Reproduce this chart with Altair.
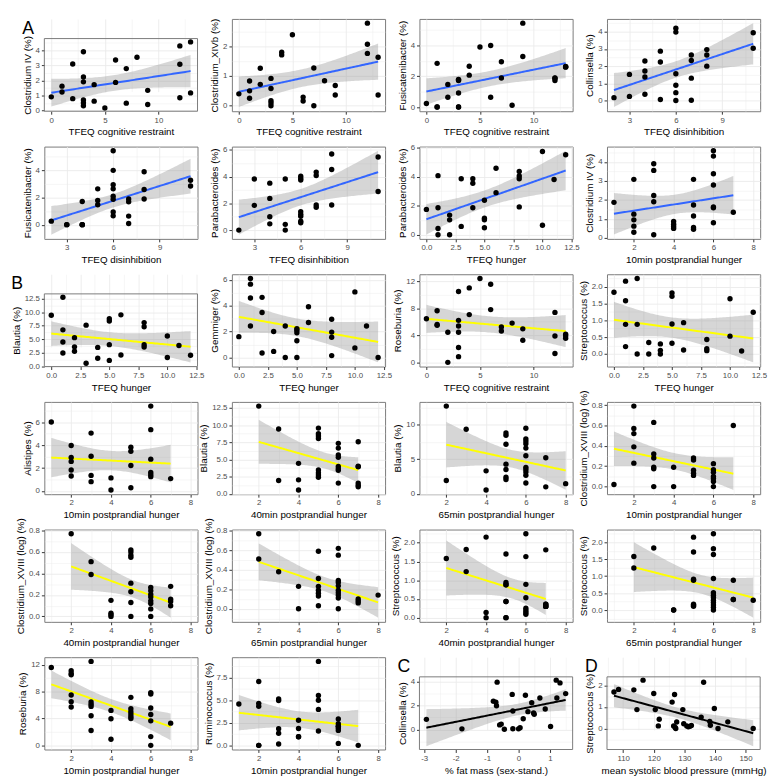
import math
import numpy as np
import pandas as pd
import altair as alt

FONT = "Liberation Sans"

# ---------------- data (overlapping points repeated) ----------------
P1_X = [0,1,1,2,2,3,3,3,3,3,3,4,4,5,6,6,7,7,8,9,9,12,12,12,13,13]
P1_Y = [0.91,1.62,1.23,3.10,0.79,3.91,2.23,1.91,0.70,0.51,0.32,1.72,0.62,0.17,3.36,1.87,2.79,0.49,3.55,1.34,0.40,4.30,3.08,0.85,4.57,1.17]
P2_X = [0,1,1,1,2,2,3,3,3,3,3,4,4,5,6,6,7,7,8,9,9,12,12,12,13,13]
P2_Y = [0.40,0.83,0.50,0.25,1.26,0.72,0.92,0.58,0.17,0.09,0.0,1.80,1.71,2.39,0.29,0.16,1.27,0.0,0.84,0.68,0.36,2.78,2.07,1.76,1.63,0.36]
P3_X = [0,1,1,1,2,2,3,3,3,3,3,3,4,4,5,6,6,7,7,8,9,9,12,12,12,13,13,13]
P3_Y = [0.23,2.84,0.0,0.0,1.47,0.64,1.80,1.76,1.72,0.91,0.0,0.0,2.65,2.07,3.90,4.00,0.64,2.94,1.89,0.12,5.45,3.28,1.89,1.87,1.72,2.64,2.61,2.59]
P4_X = [2,3,3,4,4,4,4,5,5,5,6,6,6,6,6,6,7,7,7,7,8,8,8,11,11]
P4_Y = [0.17,1.52,0.24,2.30,1.72,1.37,0.37,2.87,2.24,0.06,4.20,3.98,1.56,0.89,0.46,0.0,2.65,2.33,1.30,0.02,2.96,2.65,2.00,3.94,3.04]
P5_X = [2,3,3,4,4,4,4,5,5,5,6,6,6,6,6,6,6,6,7,7,7,7,8,8,8,11,11]
P5_Y = [0.26,0.0,0.0,1.71,0.0,0.0,0.0,2.64,1.78,1.47,5.44,4.00,2.94,2.64,2.10,1.87,0.93,0.65,1.89,1.68,0.63,0.09,3.90,2.59,1.89,3.27,2.85]
P6_X = [2,3,3,4,4,4,4,5,5,5,6,6,6,6,6,6,6,6,7,7,7,7,8,8,8,11,11]
P6_Y = [0.0,3.82,1.85,3.51,2.37,1.00,0.47,3.82,0.43,0.0,4.03,3.86,3.74,1.37,1.18,1.04,0.66,0.55,4.34,4.08,1.88,1.71,5.69,4.53,1.88,5.47,2.89]
P7_X = [0,1,1,1,1,2,2,2,3,3,4,4,4,5,5,5,5,6,6,8,8,8,8,10,10,11,12]
P7_Y = [1.74,4.06,1.85,0.43,0.0,1.35,1.02,0.0,3.85,0.57,3.85,3.54,1.85,2.37,1.13,1.02,0.48,4.57,2.89,4.35,4.04,3.85,1.91,5.72,0.65,3.80,5.50]
P8_X = [1,2,2,2,2,2,3,3,3,3,3,4,4,4,4,5,5,5,5,5,6,6,6,6,6,6,6,7]
P8_Y = [1.87,3.08,1.25,0.95,0.62,0.30,3.90,3.55,2.23,1.90,0.17,0.87,0.72,0.60,0.50,3.08,1.73,1.15,0.55,0.45,4.58,4.30,3.37,2.78,1.63,1.58,0.80,1.35]
P9_X = [0,1,1,1,1,2,2,2,3,3,4,4,5,5,5,5,6,6,8,8,8,8,10,10,11,12]
P9_Y = [9.42,12.75,6.73,4.50,2.46,5.30,3.60,2.80,7.60,0.58,3.50,1.50,8.80,8.36,4.00,1.10,9.50,2.10,8.07,7.30,4.00,3.57,5.60,1.64,3.86,2.05]
P10_X = [0,1,1,1,1,2,2,2,3,3,4,4,5,5,5,5,5,6,6,8,8,8,8,10,10,11,12]
P10_Y = [1.61,6.10,5.66,4.59,2.43,4.64,3.47,0.35,2.01,0.47,2.43,0.0,2.23,2.11,1.91,1.29,0.0,3.92,2.70,2.95,1.96,1.56,0.15,5.06,0.74,2.43,0.0]
P11_X = [0,1,1,1,2,2,3,3,3,3,3,3,4,4,5,6,6,7,7,8,9,9,12,12,12,13,13,13]
P11_Y = [6.45,7.62,5.60,5.47,4.44,0.0,10.47,6.21,5.37,4.44,2.20,0.84,11.0,7.06,12.4,11.55,7.80,5.23,4.63,5.80,4.95,3.27,7.38,3.90,1.30,4.16,3.90,3.55]
P12_X = [0,1,1,1,1,2,2,2,3,3,4,4,4,5,5,5,5,6,6,8,8,8,10,10,11,12]
P12_Y = [1.83,2.16,1.58,0.88,0.22,2.24,0.88,0.0,0.34,0.0,0.30,0.11,0.0,1.81,1.71,0.89,0.32,0.93,0.12,0.43,0.16,0.10,1.64,0.53,0.09,1.24]
P13_X = [1,2,2,2,2,2,3,3,3,3,4,4,5,5,5,5,6,6,6,6,6,6,7]
P13_Y = [6.03,3.97,2.92,2.58,1.83,1.31,5.06,3.03,1.36,0.81,1.14,0.08,3.83,3.47,2.22,0.28,7.42,5.36,2.78,1.61,1.42,1.25,1.08]
P14_X = [2,3,3,4,4,4,5,5,5,5,5,5,5,5,6,6,6,6,6,6,6,6,7,7,7,7,7,7]
P14_Y = [12.78,9.44,1.94,4.44,2.04,0.56,9.58,8.75,8.43,8.06,3.47,3.06,2.73,2.41,7.36,6.66,5.65,5.32,3.98,3.66,3.43,1.57,7.59,4.03,3.94,1.57,1.25,1.02]
P15_X = [2,2,3,4,4,5,5,5,5,5,5,5,6,6,6,6,6,6,6,6,6,6,6,7,7,8]
P15_Y = [12.70,1.94,9.35,3.33,0.56,8.80,8.47,7.18,4.30,3.52,2.41,2.08,9.49,7.96,7.64,7.27,6.62,5.51,3.84,3.52,3.15,2.69,1.57,5.23,1.02,1.48]
P16_X = [1,2,2,2,2,2,3,3,3,3,3,3,4,4,5,5,5,5,5,6,6,6,6,6,6,6,7]
P16_Y = [0.02,0.79,0.57,0.52,0.39,0.23,0.63,0.32,0.28,0.19,0.175,0.0,0.19,0.0,0.28,0.26,0.16,0.13,0.11,0.225,0.165,0.14,0.10,0.08,0.05,0.0,0.60]
P17_X = [2,3,3,4,4,4,4,5,5,5,5,5,5,5,5,6,6,6,6,6,6,6,6,7,7,7,7]
P17_Y = [0.77,0.51,0.39,0.15,0.03,0.015,0.0,0.62,0.60,0.57,0.55,0.31,0.23,0.13,0.0,0.27,0.24,0.205,0.18,0.145,0.12,0.07,0.0,0.28,0.16,0.14,0.10]
P18_X = [2,2,3,4,4,5,5,5,5,5,5,5,6,6,6,6,6,6,6,6,6,6,7,7,7,8]
P18_Y = [0.77,0.51,0.38,0.23,0.0,0.59,0.31,0.23,0.19,0.16,0.13,0.03,0.62,0.55,0.29,0.27,0.235,0.19,0.165,0.14,0.11,0.0,0.10,0.08,0.06,0.14]
P19_X = [2,3,3,4,4,4,5,5,5,5,5,5,5,5,6,6,6,6,6,6,6,6,7,7,7,7,7,7]
P19_Y = [1.58,1.82,1.23,2.15,0.14,0.0,1.70,0.94,0.88,0.88,0.43,0.43,0.0,0.0,2.24,1.63,0.89,0.53,0.25,0.19,0.14,0.09,1.81,0.36,0.36,0.30,0.30,0.30]
P20_X = [2,2,3,4,4,5,5,5,5,5,5,5,6,6,6,6,6,6,6,6,6,6,6,6,7,7,7,8]
P20_Y = [1.58,1.24,1.83,0.0,0.0,2.15,1.71,0.91,0.88,0.17,0.14,0.11,2.25,1.81,1.64,0.93,0.51,0.44,0.37,0.29,0.22,0.15,0.08,0.0,0.88,0.31,0.31,0.29]
P21_X = [1,2,2,2,2,2,2,3,3,3,3,3,3,4,4,4,5,5,5,5,5,5,6,6,6,6,6,6,6,7]
P21_Y = [11.6,11.1,10.7,10.5,7.5,6.5,5.7,12.5,6.45,6.1,5.8,4.4,2.2,5.2,3.95,0.9,7.15,5.45,5.0,4.65,4.3,4.0,7.85,7.65,5.55,4.6,3.65,1.3,0.0,3.3]
P22_X = [1,2,2,2,2,2,3,3,3,3,3,4,4,4,4,5,5,5,5,5,6,6,6,6,6,6,6,7]
P22_Y = [4.58,7.08,4.65,4.33,0.0,0.0,5.14,4.96,1.83,1.34,0.14,2.78,1.87,0.95,0.95,9.3,5.53,5.0,3.98,1.58,2.92,2.39,2.11,2.10,1.90,1.65,0.21,0.0]
P23_X = [-2.93,-1.80,-0.80,-0.72,-0.70,-0.68,-0.60,-0.55,-0.45,-0.20,-0.18,-0.18,0.00,0.05,0.15,0.22,0.30,0.42,0.48,0.50,0.68,0.85,1.02,1.20,1.22,1.32,1.50]
P23_Y = [0.85,0.05,2.38,2.30,2.00,3.98,0.38,0.45,0.02,2.95,1.55,0.06,0.05,0.15,0.90,2.88,1.50,2.25,1.38,1.28,2.65,1.72,0.25,4.15,2.65,3.92,3.02]
P24_X = [107,108.5,113.5,114.5,116.5,120,120.5,121.5,121.8,126,126.5,126.8,127,127.2,127.5,129.5,129.8,130.8,131.3,131.8,132.3,135.5,136.3,138.3,138.5,139.8,141,144.2,152.5]
P24_Y = [1.70,1.82,1.80,0.88,2.25,1.63,0.88,0.12,0.43,1.23,0.12,1.58,0.05,0.0,0.30,0.88,0.22,0.12,0.08,0.10,0.14,0.53,2.15,0.33,0.15,0.93,0.0,0.31,0.0]

Y_TITLES = ["Clostridium IV (%)", "Clostridium_XIVb (%)", "Fusicatenibacter (%)", "Collinsella (%)",
            "Fusicatenibacter (%)", "Parabacteroides (%)", "Parabacteroides (%)", "Clostridium IV (%)",
            "Blautia (%)", "Gemmiger (%)", "Roseburia (%)", "Streptococcus (%)",
            "Alistipes (%)", "Blautia (%)", "Blautia (%)", "Clostridium_XVIII (log) (%)",
            "Clostridium_XVIII (log) (%)", "Clostridium_XVIII (log) (%)", "Streptococcus (%)", "Streptococcus (%)",
            "Roseburia (%)", "Ruminococcus (%)", "Collinsella (%)", "Streptococcus (%)"]
X_KIND = ["cr", "cr", "cr", "dis", "dis", "dis", "hun", "pp10",
          "hun", "hun", "cr", "hun", "pp10", "pp40", "pp65", "pp10",
          "pp40", "pp65", "pp40", "pp65", "pp10", "pp10", "fat", "bp"]
Y_TICKS = [[0,1,2,3,4], [0,1,2], [0,2,4], [0,1,2,3,4],
           [0,2,4], [0,2,4,6], [0,2,4,6], [0,1,2,3,4],
           [0,2.5,5,7.5,10,12.5], [0,2,4,6], [0,4,8,12], [0,0.5,1,1.5,2],
           [0,2,4,6], [0,2.5,5,7.5,10,12.5], [0,5,10], [0,0.2,0.4,0.6,0.8],
           [0,0.2,0.4,0.6,0.8], [0,0.2,0.4,0.6,0.8], [0,0.5,1,1.5,2], [0,0.5,1,1.5,2],
           [0,4,8,12], [0,2.5,5,7.5], [0,2,4], [0,1,2]]
LINE_GROUP = ["blue"] * 8 + ["yellow"] * 14 + ["black"] * 2
LETTERS = {0: "A", 8: "B", 22: "C", 23: "D"}

X_INFO = {
    "cr": ("TFEQ cognitive restraint", [0, 5, 10], None),
    "dis": ("TFEQ disinhibition", [3, 6, 9], None),
    "hun": ("TFEQ hunger", [0, 2.5, 5, 7.5, 10, 12.5], None),
    "pp10": ("10min postprandial hunger", [2, 4, 6, 8], (1, 8)),
    "pp40": ("40min postprandial hunger", [2, 4, 6, 8], (1, 8)),
    "pp65": ("65min postprandial hunger", [2, 4, 6, 8], (1, 8)),
    "fat": ("% fat mass (sex-stand.)", [-3, -2, -1, 0, 1], None),
    "bp": ("mean systolic blood pressure (mmHg)", [110, 120, 130, 140, 150], None),
}
COLORS = {"blue": "#3366FF", "yellow": "#FFFF00", "black": "#000000"}

XS = [P1_X, P2_X, P3_X, P4_X, P5_X, P6_X, P7_X, P8_X, P9_X, P10_X, P11_X, P12_X,
      P13_X, P14_X, P15_X, P16_X, P17_X, P18_X, P19_X, P20_X, P21_X, P22_X, P23_X, P24_X]
YS = [P1_Y, P2_Y, P3_Y, P4_Y, P5_Y, P6_Y, P7_Y, P8_Y, P9_Y, P10_Y, P11_Y, P12_Y,
      P13_Y, P14_Y, P15_Y, P16_Y, P17_Y, P18_Y, P19_Y, P20_Y, P21_Y, P22_Y, P23_Y, P24_Y]

W, H = 156, 94
LETTER_GAP = 20
BORDER = "#7a7a7a"


def t975(df):
    z = 1.959964
    g1 = (z**3 + z) / 4
    g2 = (5 * z**5 + 16 * z**3 + 3 * z) / 96
    g3 = (3 * z**7 + 19 * z**5 + 17 * z**3 - 15 * z) / 384
    return z + g1 / df + g2 / df**2 + g3 / df**3


def lm_fit(x, y):
    x = np.asarray(x, float)
    y = np.asarray(y, float)
    n = len(x)
    xb, yb = x.mean(), y.mean()
    sxx = ((x - xb) ** 2).sum()
    b = ((x - xb) * (y - yb)).sum() / sxx
    a = yb - b * xb
    s = math.sqrt(((y - a - b * x) ** 2).sum() / (n - 2))
    t = t975(n - 2)
    xg = np.linspace(x.min(), x.max(), 80)
    fit = a + b * xg
    se = s * np.sqrt(1.0 / n + (xg - xb) ** 2 / sxx)
    return pd.DataFrame({"x": xg, "fit": fit, "lo": fit - t * se, "hi": fit + t * se})


def expand(lo, hi):
    d = (hi - lo) * 0.05
    return [lo - d, hi + d]


def make_axis(ticks, dom, title):
    step = ticks[1] - ticks[0]
    half = step / 2.0
    k0 = math.ceil(dom[0] / half - 1e-9)
    k1 = math.floor(dom[1] / half + 1e-9)
    vals = [round(k * half, 10) for k in range(k0, k1 + 1)]
    fmt = "d" if abs(step - round(step)) < 1e-9 else ".1f"
    test = f"abs(datum.value/{step} - round(datum.value/{step})) < 1e-6"
    return alt.Axis(
        values=vals,
        title=title,
        labelExpr=f"{test} ? replace(format(datum.value, '{fmt}'), '\u2212', '-') : ''",
        tickOpacity={"condition": {"test": test, "value": 1}, "value": 0},
        gridWidth={"condition": {"test": test, "value": 0.9}, "value": 0.45},
        labelOverlap=False,
        labelFlush=False,
    )


panels = []
for i in range(24):
    x, y = XS[i], YS[i]
    fitdf = lm_fit(x, y)
    xtitle, xticks, xlim = X_INFO[X_KIND[i]]
    xdom = expand(*(xlim if xlim else (min(x), max(x))))
    ydom = expand(min(min(y), fitdf["lo"].min()), max(max(y), fitdf["hi"].max()))
    lettered = i in LETTERS
    xs = alt.Scale(domain=xdom, nice=False, zero=False)
    if lettered:
        ys = alt.Scale(domain=ydom, nice=False, zero=False, range=[H, LETTER_GAP])
    else:
        ys = alt.Scale(domain=ydom, nice=False, zero=False)
    xa = make_axis(xticks, xdom, xtitle)
    ya = make_axis(Y_TICKS[i], ydom, Y_TITLES[i])
    pts = pd.DataFrame({"x": x, "y": y})

    band = alt.Chart(fitdf).mark_area(color="#999999", opacity=0.4).encode(
        x=alt.X("x:Q", scale=xs, axis=xa),
        y=alt.Y("lo:Q", scale=ys, axis=ya),
        y2="hi:Q",
    )
    line = alt.Chart(fitdf).mark_line(color=COLORS[LINE_GROUP[i]], strokeWidth=2).encode(
        x=alt.X("x:Q", scale=xs, axis=xa),
        y=alt.Y("fit:Q", scale=ys, axis=ya),
    )
    dots = alt.Chart(pts).mark_circle(size=30, color="black", opacity=1).encode(
        x=alt.X("x:Q", scale=xs, axis=xa),
        y=alt.Y("y:Q", scale=ys, axis=ya),
    )
    layers = [band, line, dots]
    if lettered:
        frame = pd.DataFrame({"x0": [xdom[0]], "x1": [xdom[1]], "y0": [ydom[0]], "y1": [ydom[1]]})
        border = alt.Chart(frame).mark_rect(fillOpacity=0, stroke=BORDER, strokeWidth=1).encode(
            x=alt.X("x0:Q", scale=xs, axis=xa), x2="x1:Q",
            y=alt.Y("y0:Q", scale=ys, axis=ya), y2="y1:Q",
        )
        layers.append(border)
        p = alt.layer(*layers).properties(
            width=W, height=H,
            view=alt.ViewBackground(stroke="transparent"),
            title=alt.TitleParams(text=LETTERS[i], anchor="start", fontSize=18, baseline="top",
                                  fontWeight="normal", font=FONT, color="black", offset=0, dy=19),
        )
    else:
        p = alt.layer(*layers).properties(width=W, height=H)
    panels.append(p)

chart = alt.concat(*panels, columns=4, spacing={"row": 36, "column": 35}, bounds="flush").configure(
    background="white", padding={"left": 2, "top": 2, "right": 2, "bottom": 2}
).configure_view(
    stroke=BORDER, strokeWidth=1
).configure_axis(
    labelFont=FONT, titleFont=FONT, labelFontSize=8, titleFontSize=10,
    labelColor="#4D4D4D", titleColor="#000000", titleFontWeight="normal",
    tickColor="#333333", tickSize=3, domain=False, gridColor="#EBEBEB",
    labelPadding=2, titlePadding=3,
)

chart.save("out.html", embed_options={"renderer": "svg", "actions": False})
